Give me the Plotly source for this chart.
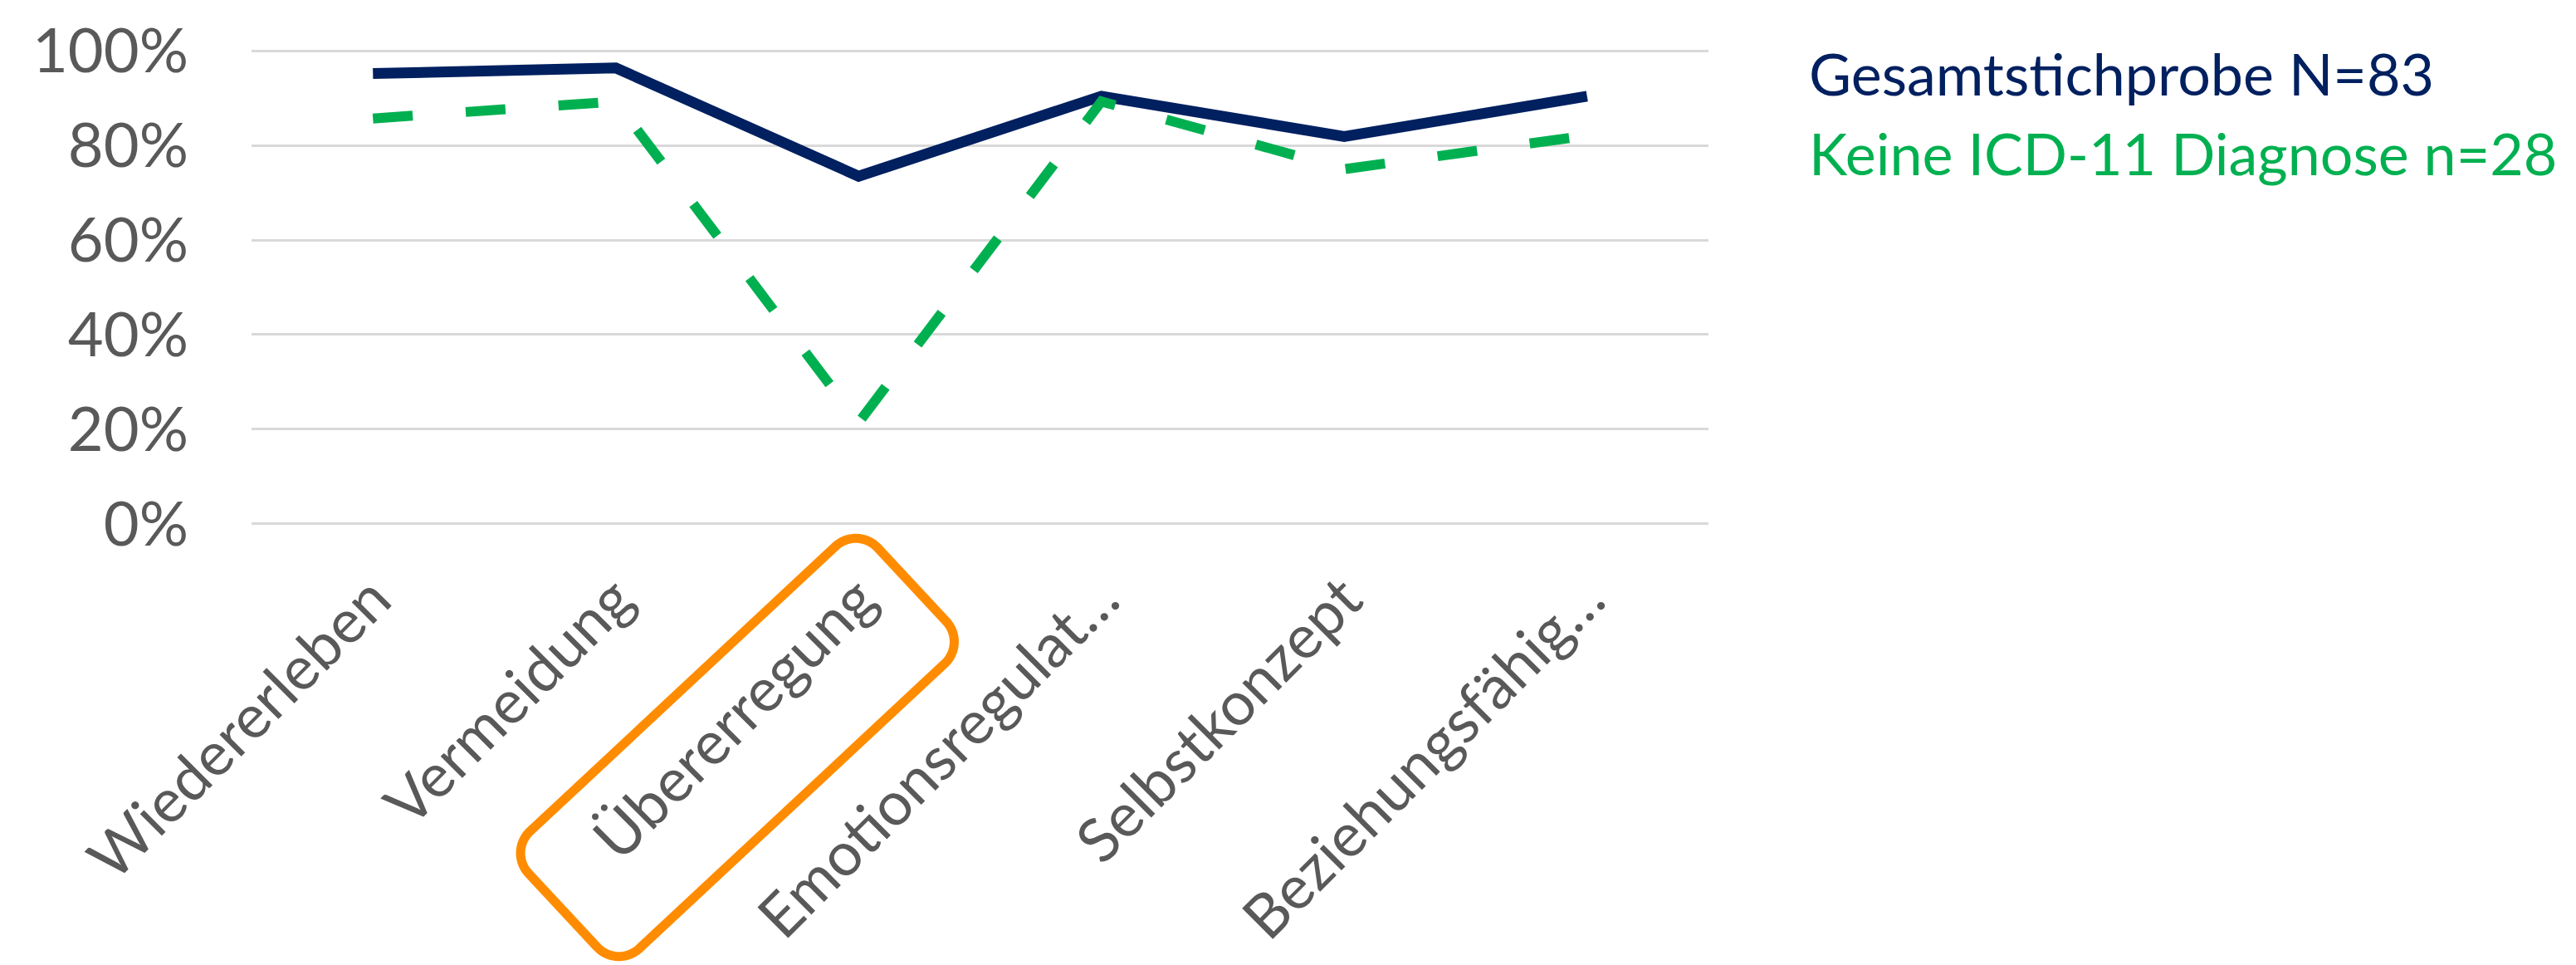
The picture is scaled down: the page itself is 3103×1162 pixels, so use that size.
import math
import plotly.graph_objects as go

# ---- data ----
categories = ["Wiedererleben", "Vermeidung", "Übererregung",
              "Emotionsregulat…", "Selbstkonzept", "Beziehungsfähig…"]
series_names = ["Gesamtstichprobe N=83", "Keine ICD-11 Diagnose n=28"]
gesamt = [0.952, 0.964, 0.735, 0.904, 0.819, 0.904]
keine_icd = [0.857, 0.893, 0.214, 0.893, 0.750, 0.821]
y_ticks = [0, 0.2, 0.4, 0.6, 0.8, 1.0]
highlight_category = "Übererregung"

# ---- layout geometry (pixels) ----
W, H = 3103, 1162
L, R, T, B = 303, 1045, 59, 1162 - 633
PW, PH = W - L - R, H - T - B

NAVY = "#002060"
GREEN = "#00B050"
ORANGE = "#FF8C00"
GREY = "#595959"
FONT = "Lato"

fig = go.Figure()
fig.add_trace(go.Scatter(x=categories, y=gesamt, mode="lines", name=series_names[0],
                         line=dict(color=NAVY, width=13), cliponaxis=False))
fig.add_trace(go.Scatter(x=categories, y=keine_icd, mode="lines", name=series_names[1],
                         line=dict(color=GREEN, width=12, dash="48px,64px"), cliponaxis=False))

# legend as coloured text
leg_x = (2177 - L) / PW
for i, (name, col) in enumerate(zip(series_names, [NAVY, GREEN])):
    fig.add_annotation(xref="paper", yref="paper", x=leg_x, y=(H - B - (88 + 96 * i)) / PH,
                       xanchor="left", yanchor="middle", showarrow=False,
                       text=name, font=dict(family=FONT, size=70, color=col))

# orange rounded box around highlighted label
idx = categories.index(highlight_category)
cat_px = L + (idx + 0.5) * PW / len(categories)
cx, cy = cat_px - 146, (H - B) + 267
length, width, rad = 575, 193, 36
ang = math.radians(-43)
ux, uy = math.cos(ang), math.sin(ang)        # along label (up-right)
vx, vy = -uy, ux                              # perpendicular
pts = []
hl, hw = length / 2 - rad, width / 2 - rad
corners = [(hl, hw, 0), (-hl, hw, 90), (-hl, -hw, 180), (hl, -hw, 270)]
for (a, b, start) in corners:
    for k in range(0, 19):
        t = math.radians(start + k * 5)
        la = a + rad * math.cos(t)
        lb = b + rad * math.sin(t)
        px = cx + la * ux + lb * vx
        py = cy + la * uy + lb * vy
        pts.append(((px - L) / PW, (H - B - py) / PH))
path = "M " + " L ".join(f"{x:.5f},{y:.5f}" for x, y in pts) + " Z"
fig.add_shape(type="path", path=path, xref="paper", yref="paper",
              line=dict(color=ORANGE, width=11))

fig.update_layout(
    width=W, height=H,
    margin=dict(l=L, r=R, t=T, b=B, autoexpand=False),
    paper_bgcolor="white", plot_bgcolor="white",
    showlegend=False,
    font=dict(family=FONT, color=GREY),
)
fig.update_xaxes(type="category", range=[-0.5, len(categories) - 0.5],
                 showgrid=False, showline=False, zeroline=False, automargin=False,
                 tickangle=-45, tickfont=dict(family=FONT, size=73, color=GREY),
                 ticks="", ticklabelstandoff=30)
fig.update_yaxes(range=[-0.004, 1.004], tickvals=y_ticks, tickformat=".0%",
                 showgrid=True, gridcolor="#D9D9D9", gridwidth=3,
                 zeroline=False, showline=False, automargin=False,
                 tickfont=dict(family=FONT, size=74, color=GREY),
                 ticks="", ticklabelstandoff=75)

fig.write_html("out.html")
